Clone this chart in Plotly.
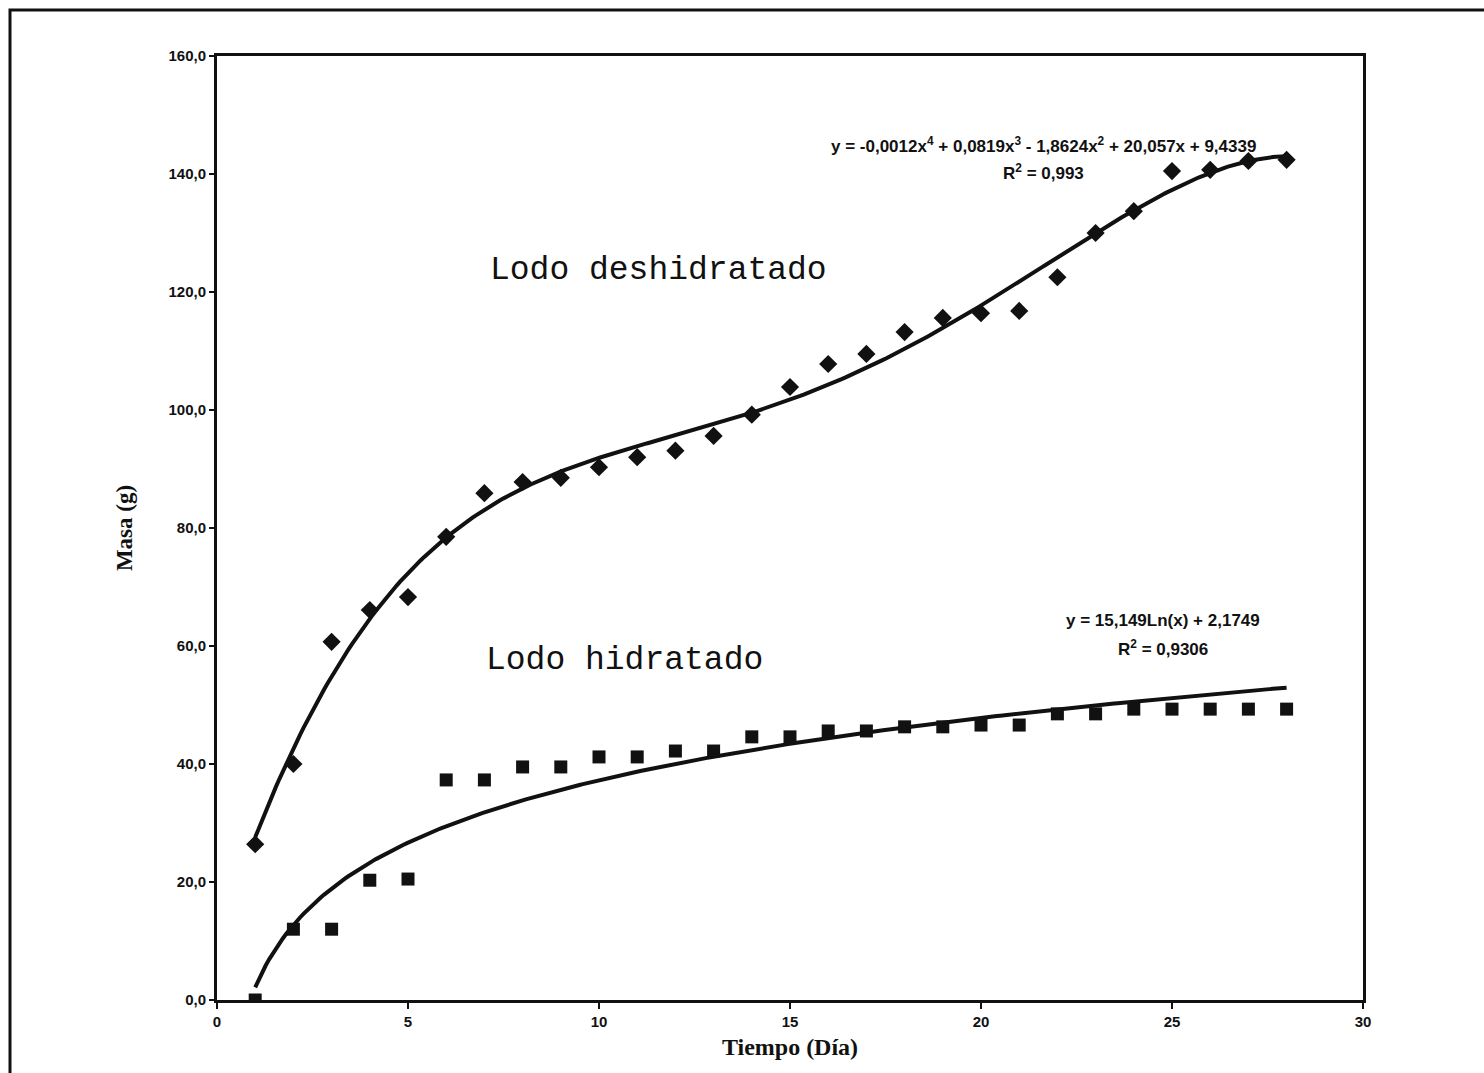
import numpy as np
import plotly.graph_objects as go

dias = list(range(1, 29))
lodo_deshidratado = [26.4, 40.0, 60.7, 66.1, 68.3, 78.5, 85.9, 87.8, 88.5, 90.3,
                     92.0, 93.1, 95.6, 99.2, 103.9, 107.8, 109.5, 113.2, 115.6, 116.4,
                     116.8, 122.5, 130.0, 133.7, 140.5, 140.7, 142.2, 142.4]
lodo_hidratado = [0.0, 12.0, 12.0, 20.3, 20.5, 37.3, 37.3, 39.5, 39.5, 41.2,
                  41.2, 42.2, 42.2, 44.6, 44.6, 45.6, 45.6, 46.3, 46.3, 46.6,
                  46.6, 48.5, 48.5, 49.3, 49.3, 49.3, 49.3, 49.3]
x_ticks = [0, 5, 10, 15, 20, 25, 30]
y_ticks = [0, 20, 40, 60, 80, 100, 120, 140, 160]

x = np.array(dias, dtype=float)
xs = np.linspace(1, 28, 300)
p4 = np.polyfit(x, np.array(lodo_deshidratado), 4)
fit_poly = np.polyval(p4, xs)
pl = np.polyfit(np.log(x), np.array(lodo_hidratado), 1)
fit_log = pl[0] * np.log(xs) + pl[1]

fig = go.Figure()
fig.add_trace(go.Scatter(x=xs, y=fit_poly, mode="lines",
                         line=dict(color="#111111", width=4), hoverinfo="skip"))
fig.add_trace(go.Scatter(x=xs, y=fit_log, mode="lines",
                         line=dict(color="#111111", width=4), hoverinfo="skip"))
fig.add_trace(go.Scatter(x=dias, y=lodo_deshidratado, mode="markers",
                         marker=dict(symbol="diamond", size=14, color="#111111")))
fig.add_trace(go.Scatter(x=dias, y=lodo_hidratado, mode="markers",
                         marker=dict(symbol="square", size=13, color="#111111")))

tickfont = dict(family="Liberation Sans", size=15, color="#111111", weight="bold")
eqfont = dict(family="Liberation Sans", size=17, color="#111111", weight="bold")
labfont = dict(family="Liberation Mono", size=33, color="#111111")

annots = [
    dict(x=11.55, y=123.7, text="Lodo deshidratado", font=labfont),
    dict(x=10.68, y=57.6, text="Lodo hidratado", font=labfont),
    dict(x=21.63, y=144.9, text="y = -0,0012x<sup>4</sup> + 0,0819x<sup>3</sup> - 1,8624x<sup>2</sup> + 20,057x + 9,4339", font=eqfont),
    dict(x=21.63, y=140.4, text="R<sup>2</sup> = 0,993", font=eqfont),
    dict(x=24.76, y=64.3, text="y = 15,149Ln(x) + 2,1749", font=eqfont),
    dict(x=24.76, y=59.7, text="R<sup>2</sup> = 0,9306", font=eqfont),
]
for a in annots:
    a.update(xref="x", yref="y", showarrow=False)

fig.update_layout(
    width=1484, height=1073,
    margin=dict(l=217, r=121, t=56, b=73),
    paper_bgcolor="white", plot_bgcolor="white",
    showlegend=False,
    separators=",.",
    annotations=annots,
    shapes=[dict(type="rect", xref="paper", yref="paper",
                 x0=-207/1146, x1=1.2, y0=-0.2, y1=1 + 46/944,
                 line=dict(color="#111111", width=3), layer="below")],
)
fig.update_xaxes(range=[0, 30], tickvals=x_ticks, showline=True, linecolor="#111111",
                 linewidth=3, mirror=True, ticks="outside", ticklen=6, tickwidth=2,
                 tickcolor="#111111", showgrid=False, zeroline=False, tickfont=tickfont,
                 title=dict(text="Tiempo (Día)", standoff=10,
                            font=dict(family="Liberation Serif", size=24, color="#111111", weight="bold")))
fig.update_yaxes(range=[0, 160], tickvals=y_ticks, tickformat=".1f", showline=True,
                 linecolor="#111111", linewidth=3, mirror=True, ticks="outside", ticklen=5,
                 tickwidth=2, tickcolor="#111111", showgrid=False, zeroline=False,
                 tickfont=tickfont,
                 title=dict(text="Masa (g)", standoff=30,
                            font=dict(family="Liberation Serif", size=23, color="#111111", weight="bold")))

fig.write_html("out.html")
